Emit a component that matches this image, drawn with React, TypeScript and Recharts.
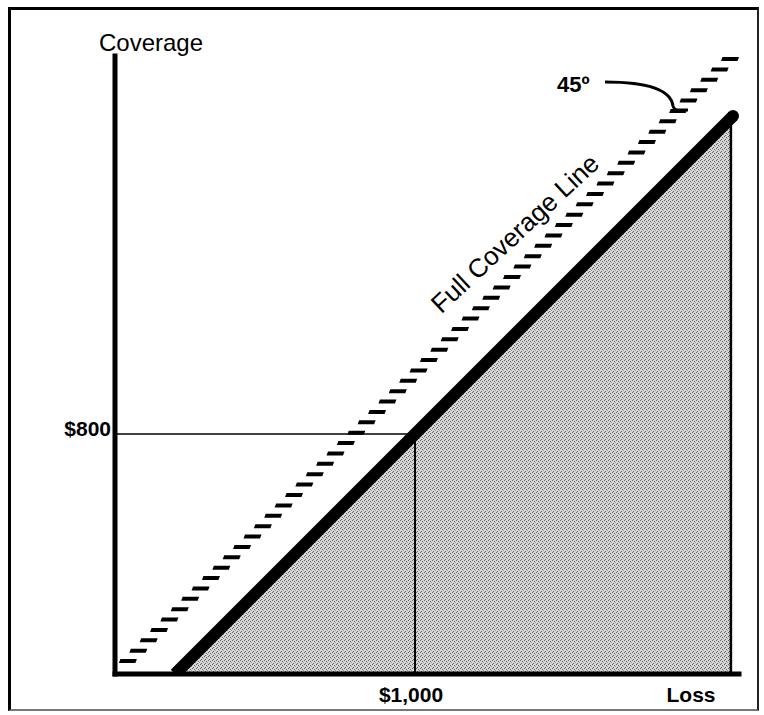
import { ComposedChart, XAxis, YAxis, Area, Line, ReferenceLine, ReferenceDot } from 'recharts'

const FONT = '"Liberation Sans", Arial, Helvetica, sans-serif'

// full coverage line: coverage = loss - $200 deductible
const coverageLoss = [200, 2060]
const coverageAmount = [0, 1860]
// shaded region under it, closed on the right by a thin vertical
const shadeLoss = [200, 2053]
const shadeAmount = [0, 1853]
// 45 degree reference line (coverage = loss)
const diagFrom = 43
const diagTo = 2050
// worked example
const exampleLoss = 1000
const exampleCoverage = 800

const xTicks = [1000, 1920]
const xTickLabels = ['$1,000', 'Loss']
const yTicks = [800]
const yTickLabels = ['$800']

const lineData = coverageLoss.map((loss, i) => ({ loss, cov: coverageAmount[i] }))
const shadeData = shadeLoss.map((loss, i) => ({ loss, cov: shadeAmount[i] }))

// the 45º line is drawn as a run of short, slightly slanted horizontal ticks
const HatchLine = (p: any) => {
  const { x1, y1, x2, y2 } = p
  const n = Math.round(Math.abs(y1 - y2) / 10.3)
  const marks = []
  for (let i = 0; i <= n; i++) {
    const t = i / n
    const cx = x1 + (x2 - x1) * t
    const cy = y1 + (y2 - y1) * t
    marks.push(
      <polygon key={i} fill="#000"
        points={`${cx - 9},${cy + 2} ${cx - 7.5},${cy - 2} ${cx + 9},${cy - 2} ${cx + 7.5},${cy + 2}`} />
    )
  }
  return <g>{marks}</g>
}

const XTick = (p: any) => {
  const i = xTicks.indexOf(p.payload.value)
  return (
    <text x={p.x - (i === 0 ? 4 : 0)} y={p.y} dy="0.71em" textAnchor="middle" fill="#000"
      style={{ fontFamily: FONT, fontSize: 21, fontWeight: 700 }}>{xTickLabels[i]}</text>
  )
}

const YTick = (p: any) => {
  const i = yTicks.indexOf(p.payload.value)
  return (
    <text x={p.x} y={p.y - 5} dy="0.355em" textAnchor="end" fill="#000"
      style={{ fontFamily: FONT, fontSize: 21, fontWeight: 700 }}>{yTickLabels[i]}</text>
  )
}

export default function App() {
  return (
    <div style={{ position: 'absolute', left: 0, top: 0, width: 764, height: 715, background: '#fff' }}>
      <div style={{ position: 'absolute', left: 8, top: 7, width: 751, height: 704, boxSizing: 'border-box',
        borderTop: '3px solid #000', borderLeft: '3px solid #000', borderRight: '2px solid #222', borderBottom: '2px solid #777' }} />
      <ComposedChart width={764} height={715} margin={{ top: 56, right: 25, bottom: 11, left: 15 }}
        style={{ position: 'absolute', left: 0, top: 0 }}>
        <defs>
          <pattern id="stipple" width="4" height="4" patternUnits="userSpaceOnUse">
            <rect width="4" height="4" fill="#d6d6d6" />
            <rect x="0" y="0" width="1" height="1" fill="#666" />
            <rect x="2" y="1" width="1" height="1" fill="#6a6a6a" />
            <rect x="1" y="3" width="1" height="1" fill="#666" />
            <rect x="3" y="2" width="1" height="1" fill="#999" />
          </pattern>
        </defs>
        <XAxis type="number" dataKey="loss" domain={[0, 2080]} ticks={xTicks} allowDataOverflow
          height={30} tickSize={0} tickMargin={13} tickLine={false} tick={<XTick />}
          axisLine={{ stroke: '#000', strokeWidth: 5, strokeLinecap: 'square' }} />
        <YAxis type="number" dataKey="cov" domain={[0, 2060]} ticks={yTicks} allowDataOverflow
          width={100} tickSize={0} tickMargin={4} tickLine={false} tick={<YTick />}
          axisLine={{ stroke: '#000', strokeWidth: 5, strokeLinecap: 'square' }} />

        <Area data={shadeData} dataKey="cov" type="linear" stroke="none" fill="url(#stipple)" fillOpacity={1}
          isAnimationActive={false} />
        <ReferenceLine segment={[{ x: shadeLoss[1], y: 0 }, { x: shadeLoss[1], y: shadeAmount[1] }]}
          stroke="#000" strokeWidth={2.5} />
        <ReferenceLine segment={[{ x: 0, y: exampleCoverage }, { x: exampleLoss, y: exampleCoverage }]}
          stroke="#000" strokeWidth={1.5} />
        <ReferenceLine segment={[{ x: exampleLoss, y: 0 }, { x: exampleLoss, y: exampleCoverage }]}
          stroke="#000" strokeWidth={2} />
        <ReferenceLine segment={[{ x: diagFrom, y: diagFrom }, { x: diagTo, y: diagTo }]} shape={HatchLine} />

        <Line data={lineData} dataKey="cov" type="linear" stroke="#000" strokeWidth={12} isAnimationActive={false}
          dot={(p: any) => p.index === 1
            ? <circle key="cap" cx={p.cx} cy={p.cy} r={6} fill="#000" />
            : <g key={`d${p.index}`} />}
          activeDot={false} />

        <ReferenceDot x={0} y={2060} r={0} ifOverflow="visible"
          shape={(p: any) => (
            <text x={p.cx - 16} y={p.cy - 5} fill="#000" style={{ fontFamily: FONT, fontSize: 24 }}>Coverage</text>
          )} />
        <ReferenceDot x={1400} y={1400} r={0} ifOverflow="visible"
          shape={(p: any) => (
            <text transform={`translate(${p.cx - 14},${p.cy - 14}) rotate(-43)`} textAnchor="middle" fill="#000"
              style={{ fontFamily: FONT, fontSize: 26 }}>Full Coverage Line</text>
          )} />
        <ReferenceDot x={1880} y={1880} r={0} ifOverflow="visible"
          shape={(p: any) => (
            <g transform={`translate(${p.cx},${p.cy})`}>
              <path d="M -74 -28 C -30 -28, -8 -20, -6 -4 Q -5 0, 0 0 L 9 0" fill="none" stroke="#000" strokeWidth={3} />
              <text x={-122} y={-18} fill="#000" style={{ fontFamily: FONT, fontSize: 22, fontWeight: 700 }}>45º</text>
            </g>
          )} />
      </ComposedChart>
    </div>
  )
}
